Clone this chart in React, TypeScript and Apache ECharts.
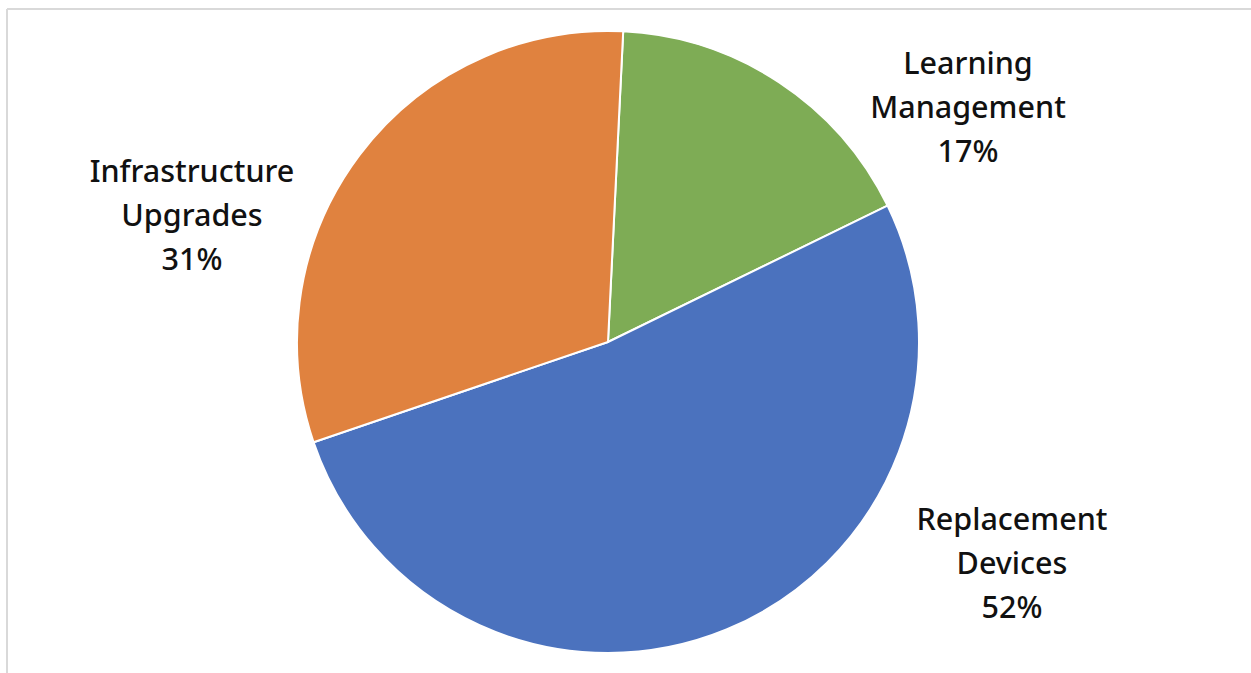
import React, { useEffect, useRef } from "react";
import * as echarts from "echarts";

const categories = ["Learning Management", "Replacement Devices", "Infrastructure Upgrades"];
const values = [17, 52, 31];
const colors = ["#7EAC55", "#4B72BE", "#E0823F"];
const labelPos: [number, number][] = [
  [968, 106],
  [1012, 562],
  [192, 214],
];

export default function App() {
  const ref = useRef<HTMLDivElement>(null);
  useEffect(() => {
    document.body.style.margin = "0";
    const chart = echarts.init(ref.current!, null, { renderer: "svg" });
    chart.setOption({
      animation: false,
      backgroundColor: "#ffffff",
      graphic: [
        { type: "line", shape: { x1: 7, y1: 9, x2: 1251, y2: 9 }, style: { stroke: "#d9d9d9", lineWidth: 2 } },
        { type: "line", shape: { x1: 7, y1: 9, x2: 7, y2: 673 }, style: { stroke: "#d9d9d9", lineWidth: 2 } },
      ],
      series: [
        {
          type: "pie",
          center: [608, 342],
          radius: 311,
          startAngle: 87.2,
          clockwise: true,
          data: categories.map((c, i) => ({ name: c, value: values[i], itemStyle: { color: colors[i] } })),
          itemStyle: { borderColor: "#ffffff", borderWidth: 2 },
          label: {
            show: true,
            position: "outside",
            formatter: (p: any) => `${p.name.replace(" ", "\n")}\n${Math.round(p.percent)}%`,
            fontFamily: "Noto Sans",
            fontSize: 30.5,
            fontWeight: 500,
            lineHeight: 44,
            color: "#111111",
            align: "center",
          },
          labelLine: { show: false },
          labelLayout: (params: any) => {
            const [x, y] = labelPos[params.dataIndex];
            return { x, y, align: "center", verticalAlign: "middle" };
          },
        },
      ],
    });
    return () => chart.dispose();
  }, []);
  return <div ref={ref} style={{ width: 1251, height: 673 }} />;
}
